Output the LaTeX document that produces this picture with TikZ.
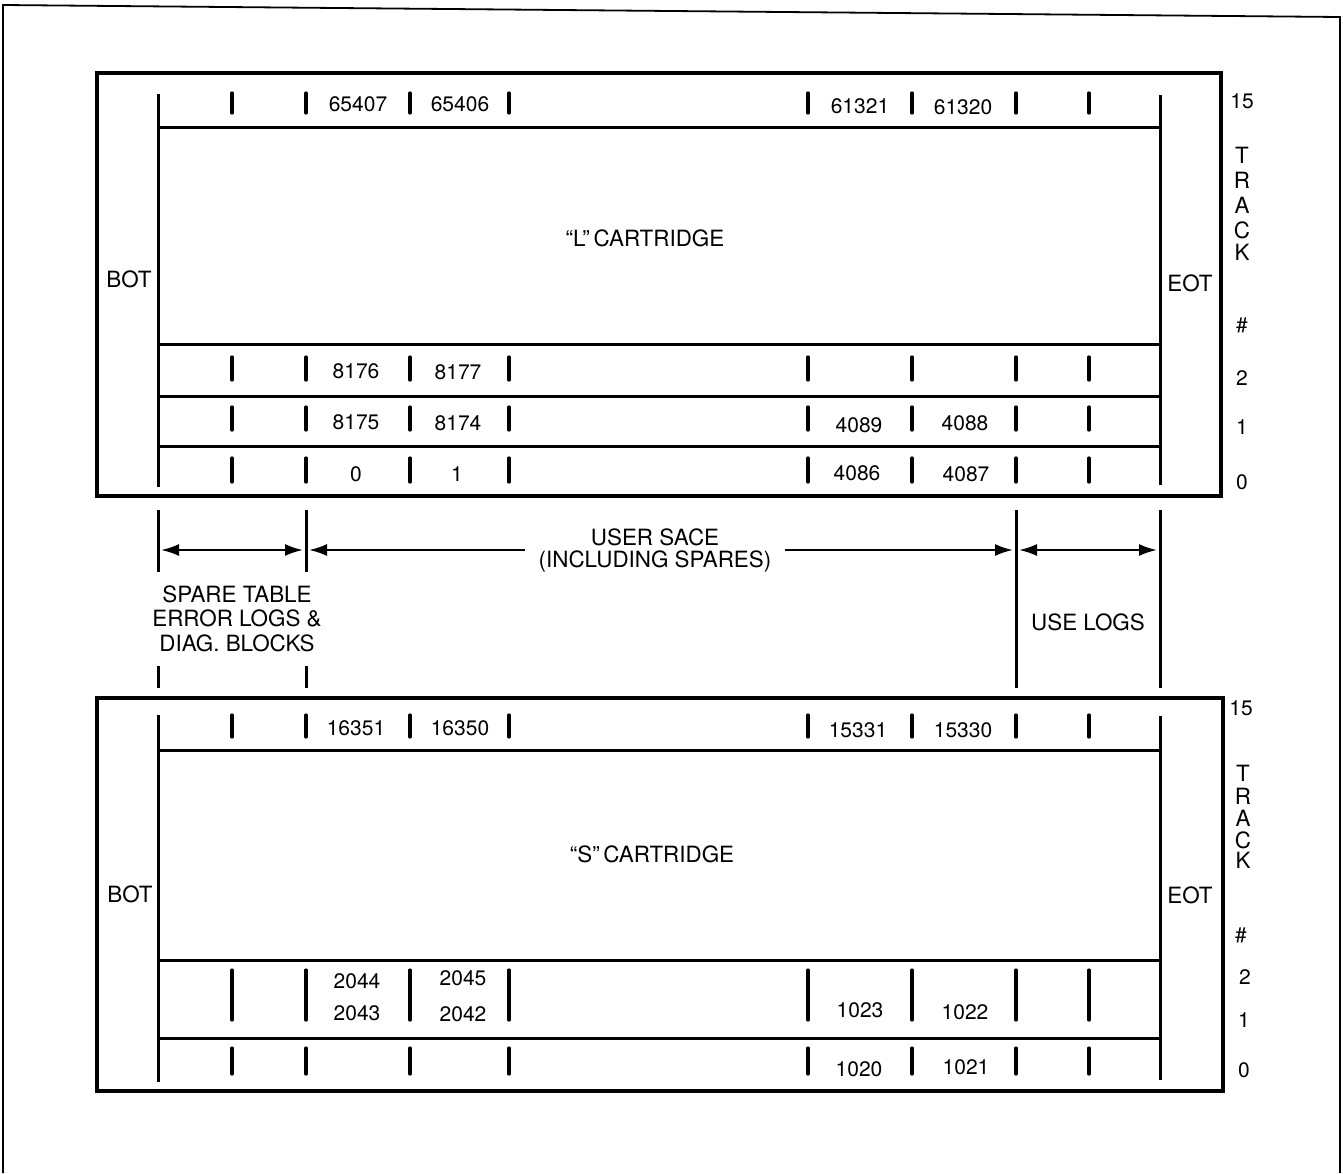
\documentclass[tikz,border=0pt]{standalone}
\usepackage{fontspec}
\setmainfont{TeX Gyre Heros}
\usetikzlibrary{arrows.meta}
\begin{document}
\begin{tikzpicture}[x=0.5pt,y=-0.5pt,
  frame/.style={line width=0.9pt},
  cbox/.style={line width=1.7pt},
  trk/.style={line width=1.5pt},
  tk/.style={line width=1.6pt,line cap=round},
  lbl/.style={font=\fontsize{10.5}{12}\selectfont,inner sep=0pt},
  capl/.style={font=\fontsize{11.2}{13}\selectfont,inner sep=0pt},
  arr/.style={line width=1.1pt,-{Latex[length=9pt,width=6pt]}},
  darr/.style={line width=1.1pt,{Latex[length=9pt,width=6pt]}-{Latex[length=9pt,width=6pt]}}]
\useasboundingbox (0,0) rectangle (1343,1173);
% outer frame
\draw[frame] (3,1173) -- (3,5) -- (1340,17) -- (1340,1173);

% ================= upper "L" cartridge =================
\draw[cbox] (97,73) rectangle (1221,496);
\draw[trk] (158,94) -- (158,487);
\draw[trk] (1160,95) -- (1160,485);
\foreach \y in {127,344,396,446} \draw[trk] (158,\y) -- (1160,\y);
\foreach \x in {232,306,410,509,808,912,1016,1089}{
  \draw[tk] (\x,93) -- (\x,113);
  \draw[tk] (\x,357) -- (\x,380);
  \draw[tk] (\x,407) -- (\x,430);
  \draw[tk] (\x,458) -- (\x,482);
}
\node[lbl] (la1) at (358,104) {65407};
\node[lbl] (la2) at (460,104) {65406};
\node[lbl] (la3) at (860,106) {61321};
\node[lbl] (la4) at (963,107) {61320};
\node[lbl] (lb1) at (356,371) {8176};
\node[lbl] (lb2) at (458,372) {8177};
\node[lbl] (lc1) at (356,422) {8175};
\node[lbl] (lc2) at (458,423) {8174};
\node[lbl] (lc3) at (859,425) {4089};
\node[lbl] (lc4) at (965,423) {4088};
\node[lbl] (ld1) at (356,474) {0};
\node[lbl] (ld2) at (457,474) {1};
\node[lbl] (ld3) at (857,473) {4086};
\node[lbl] (ld4) at (966,474) {4087};
\node[capl] (lname) at (645,238) {“L”\,CARTRIDGE};
\node[capl] (lbot) at (129,279) {BOT};
\node[capl] (leot) at (1190,283) {EOT};
\node[lbl] (lt15) at (1242,101) {15};
\node[capl] (ltT) at (1242,155) {T};
\node[capl] (ltR) at (1242,180) {R};
\node[capl] (ltA) at (1242,205) {A};
\node[capl] (ltC) at (1242,230) {C};
\node[capl] (ltK) at (1242,252) {K};
\node[lbl] (lth) at (1242,325) {\#};
\node[lbl] (lt2) at (1242,378) {2};
\node[lbl] (lt1) at (1242,427) {1};
\node[lbl] (lt0) at (1242,482) {0};

% ================= middle annotations =================
\draw[trk] (158,510) -- (158,572);
\draw[trk] (306,510) -- (306,572);
\draw[trk] (158,666) -- (158,688);
\draw[trk] (306,666) -- (306,688);
\draw[trk] (1016,510) -- (1016,688);
\draw[trk] (1160,510) -- (1160,688);
\coordinate (a1) at (161,550);
\coordinate (a2) at (303,550);
\coordinate (a3) at (525,550);
\coordinate (a4) at (309,550);
\coordinate (a5) at (785,550);
\coordinate (a6) at (1013,550);
\coordinate (a7) at (1019,550);
\coordinate (a8) at (1157,550);
\draw[darr] (a1) -- (a2);
\draw[arr] (a3) -- (a4);
\draw[arr] (a5) -- (a6);
\draw[darr] (a7) -- (a8);
\node[capl] (us1) at (655,537) {USER SACE};
\node[capl] (us2) at (655,561) {(INCLUDING SPARES)};
\node[capl] (sp1) at (237,594) {SPARE TABLE};
\node[capl] (sp2) at (237,618) {ERROR LOGS \&};
\node[capl] (sp3) at (237,643) {DIAG. BLOCKS};
\node[capl] (ul) at (1088,622) {USE LOGS};

% ================= lower "S" cartridge =================
\draw[cbox] (97,698) rectangle (1223,1091);
\draw[trk] (158,715) -- (158,1082);
\draw[trk] (1160,716) -- (1160,1080);
\foreach \y in {750,960,1038} \draw[trk] (158,\y) -- (1160,\y);
\foreach \x in {232,306,410,509,808,912,1016,1089}{
  \draw[tk] (\x,715) -- (\x,737);
  \draw[tk] (\x,970) -- (\x,1020);
  \draw[tk] (\x,1048) -- (\x,1074);
}
\node[lbl] (sa1) at (356,728) {16351};
\node[lbl] (sa2) at (460,728) {16350};
\node[lbl] (sa3) at (858,730) {15331};
\node[lbl] (sa4) at (963,730) {15330};
\node[lbl] (sb1) at (357,981) {2044};
\node[lbl] (sb2) at (463,978) {2045};
\node[lbl] (sc1) at (357,1013) {2043};
\node[lbl] (sc2) at (463,1014) {2042};
\node[lbl] (sc3) at (860,1010) {1023};
\node[lbl] (sc4) at (965,1012) {1022};
\node[lbl] (sd3) at (859,1069) {1020};
\node[lbl] (sd4) at (966,1067) {1021};
\node[capl] (sname) at (652,854) {“S”\,CARTRIDGE};
\node[capl] (sbot) at (130,894) {BOT};
\node[capl] (seot) at (1190,895) {EOT};
\node[lbl] (st15) at (1241,708) {15};
\node[capl] (stT) at (1243,773) {T};
\node[capl] (stR) at (1243,796) {R};
\node[capl] (stA) at (1243,818) {A};
\node[capl] (stC) at (1243,840) {C};
\node[capl] (stK) at (1243,860) {K};
\node[lbl] (sth) at (1241,935) {\#};
\node[lbl] (st2) at (1245,977) {2};
\node[lbl] (st1) at (1244,1020) {1};
\node[lbl] (st0) at (1244,1070) {0};
\end{tikzpicture}
\end{document}
